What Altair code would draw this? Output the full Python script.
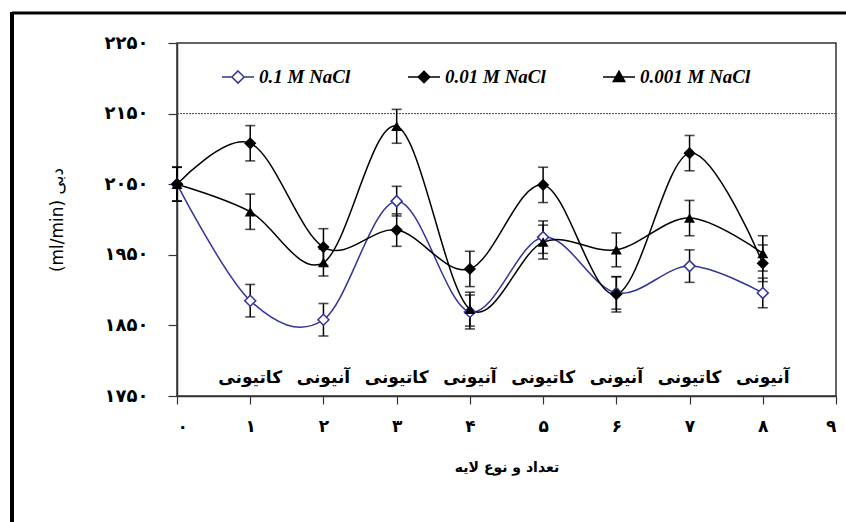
import altair as alt
import pandas as pd

# ---------------- data ----------------
layers_x = [0, 1, 2, 3, 4, 5, 6, 7, 8]
series_names = ["0.1 M NaCl", "0.01 M NaCl", "0.001 M NaCl"]
flow_01 = [2050, 1885, 1858, 2026, 1869, 1975, 1896, 1934, 1896]
flow_001 = [2050, 2108, 1961, 1985, 1930, 2049, 1894, 2094, 1938]
flow_0001 = [2050, 2011, 1939, 2132, 1873, 1968, 1957, 2002, 1952]
err_01 = [24, 23, 23, 21, 24, 23, 23, 23, 21]
err_001 = [24, 25, 26, 23, 25, 25, 25, 25, 26]
err_0001 = [24, 25, 19, 24, 24, 24, 24, 25, 25]

layer_type_x = [1, 2, 3, 4, 5, 6, 7, 8]
layer_types = ["کاتیونی", "آنیونی", "کاتیونی", "آنیونی",
               "کاتیونی", "آنیونی", "کاتیونی", "آنیونی"]

y_ticks = [1750, 1850, 1950, 2050, 2150, 2250]
x_ticks = [0, 1, 2, 3, 4, 5, 6, 7, 8, 9]
reference_line = [2150]

x_title = "تعداد و نوع لایه"
y_title = "(ml/min) دبی"

# ---------------- helpers ----------------
fa_digits = str.maketrans("0123456789", "۰۱۲۳۴۵۶۷۸۹")


def fa_label_expr(values):
    expr = "datum.label"
    for v in reversed(values):
        expr = f"datum.value == {v} ? '{str(v).translate(fa_digits)}' : ({expr})"
    return expr


rows = []
for name, vals, errs in zip(series_names, [flow_01, flow_001, flow_0001],
                            [err_01, err_001, err_0001]):
    for x, v, e in zip(layers_x, vals, errs):
        rows.append({"series": name, "layer": x, "flow": v,
                     "lo": v - e, "hi": v + e})
df = pd.DataFrame(rows)
df_types = pd.DataFrame({"layer": layer_type_x, "label": layer_types})
df_ref = pd.DataFrame({"flow": reference_line})
df_one = pd.DataFrame({"a": [0]})

FONT = "DejaVu Sans"

xscale = alt.Scale(domain=[0, 9], nice=False, zero=False)
yscale = alt.Scale(domain=[1750, 2250], nice=False, zero=False)

xaxis = alt.Axis(values=x_ticks, labelExpr=fa_label_expr(x_ticks),
                 grid=False, tickSize=8, tickColor="#333", tickWidth=1.2,
                 domainColor="#333", domainWidth=1.5,
                 labelFont=FONT, labelFontWeight="bold", labelFontSize=17,
                 labelColor="black", labelPadding=14, labelAngle=0,
                 titleFont=FONT, titleFontWeight="bold", titleFontSize=14,
                 titleColor="black", titlePadding=26)
yaxis = alt.Axis(values=y_ticks, labelExpr=fa_label_expr(y_ticks),
                 grid=False, tickSize=9, tickColor="#333", tickWidth=1.2,
                 domainColor="#333", domainWidth=1.5,
                 labelFont=FONT, labelFontWeight="bold", labelFontSize=18,
                 labelColor="black", labelPadding=20,
                 titleFont=FONT, titleFontWeight="normal", titleFontSize=17,
                 titleColor="black", titlePadding=38)


def X(field="layer"):
    return alt.X(f"{field}:Q", scale=xscale, axis=xaxis, title=x_title)


def Y(field="flow"):
    return alt.Y(f"{field}:Q", scale=yscale, axis=yaxis, title=y_title)


base = alt.Chart(df)

# dotted reference line
ref = alt.Chart(df_ref).mark_rule(color="#444", strokeWidth=1,
                                  strokeDash=[2, 1]).encode(x=alt.value(0), x2=alt.value(659), y=Y())

# error bars
err_rule = base.mark_rule(color="black", strokeWidth=1.5).encode(
    x=X(), y=Y("lo"), y2="hi:Q")
err_lo = base.mark_tick(orient="horizontal", size=10, thickness=1.6,
                        color="black").encode(x=X(), y=Y("lo"))
err_hi = base.mark_tick(orient="horizontal", size=10, thickness=1.6,
                        color="black").encode(x=X(), y=Y("hi"))

line_colors = ["#333399", "black", "black"]


def series_line(name, color):
    return base.transform_filter(alt.datum.series == name).mark_line(
        interpolate="cardinal", tension=0, color=color, strokeWidth=1.5
    ).encode(x=X(), y=Y())


lines = [series_line(n, c) for n, c in zip(series_names, line_colors)]

pts_01 = base.transform_filter(alt.datum.series == series_names[0]).mark_point(
    shape="diamond", filled=True, fill="white", stroke="#333399",
    strokeWidth=1.5, size=120, opacity=1).encode(x=X(), y=Y())
pts_001 = base.transform_filter(alt.datum.series == series_names[1]).mark_point(
    shape="diamond", filled=True, color="black", size=150, opacity=1).encode(x=X(), y=Y())
pts_0001 = base.transform_filter(alt.datum.series == series_names[2]).mark_point(
    shape="triangle-up", filled=True, color="black", size=120, opacity=1).encode(x=X(), y=Y())

# legend (line + marker symbols)
leg_paths = [
    "M-1,0L-0.38,0M0.38,0L1,0M0,-0.38L0.38,0L0,0.38L-0.38,0Z",
    "M-1,0L1,0M0,-0.36L0.36,0L0,0.36L-0.36,0Z",
    "M-1,0L1,0M0,-0.36L0.36,0.28L-0.36,0.28Z",
]
leg = alt.Legend(orient="none", legendX=44, legendY=17, direction="horizontal",
                 columns=3, title=None, symbolSize=1024, symbolStrokeWidth=1.5,
                 symbolOpacity=1, columnPadding=54, labelOffset=4,
                 labelFont="Liberation Serif", labelFontStyle="italic",
                 labelFontWeight="bold", labelFontSize=19, labelColor="black",
                 padding=0)
legend_layer = base.mark_point(filled=True, opacity=0, strokeWidth=1.5).encode(
    x=X(), y=Y(),
    shape=alt.Shape("series:N", scale=alt.Scale(domain=series_names, range=leg_paths),
                    legend=leg),
    stroke=alt.Stroke("series:N", scale=alt.Scale(domain=series_names,
                                                  range=["#333399", "black", "black"]),
                      legend=leg),
    fill=alt.Fill("series:N", scale=alt.Scale(domain=series_names,
                                              range=["white", "black", "black"]),
                  legend=leg),
)

# layer-type annotations
types_text = alt.Chart(df_types).mark_text(
    font=FONT, fontWeight="bold", fontSize=17, color="black", baseline="middle"
).encode(x=X(), y=alt.value(335), text="label:N")

# outer frame (top and left edges of the figure)
frame_top = alt.Chart(df_one).mark_rule(color="black", strokeWidth=3).encode(
    x=alt.value(-165), x2=alt.value(669), y=alt.value(-30))
frame_left = alt.Chart(df_one).mark_rule(color="black", strokeWidth=4).encode(
    x=alt.value(-165), y=alt.value(-31), y2=alt.value(479))

chart = alt.layer(
    ref, err_rule, err_lo, err_hi, *lines, pts_01, pts_001, pts_0001,
    legend_layer, types_text, frame_top, frame_left
).properties(
    width=659, height=353,
    autosize=alt.AutoSizeParams(type="none"),
    padding={"left": 177, "top": 43, "right": 10, "bottom": 126},
    background="white",
).configure_view(stroke="#333", strokeWidth=1.5)

chart.save("out.html", embed_options={"renderer": "svg", "actions": False})
